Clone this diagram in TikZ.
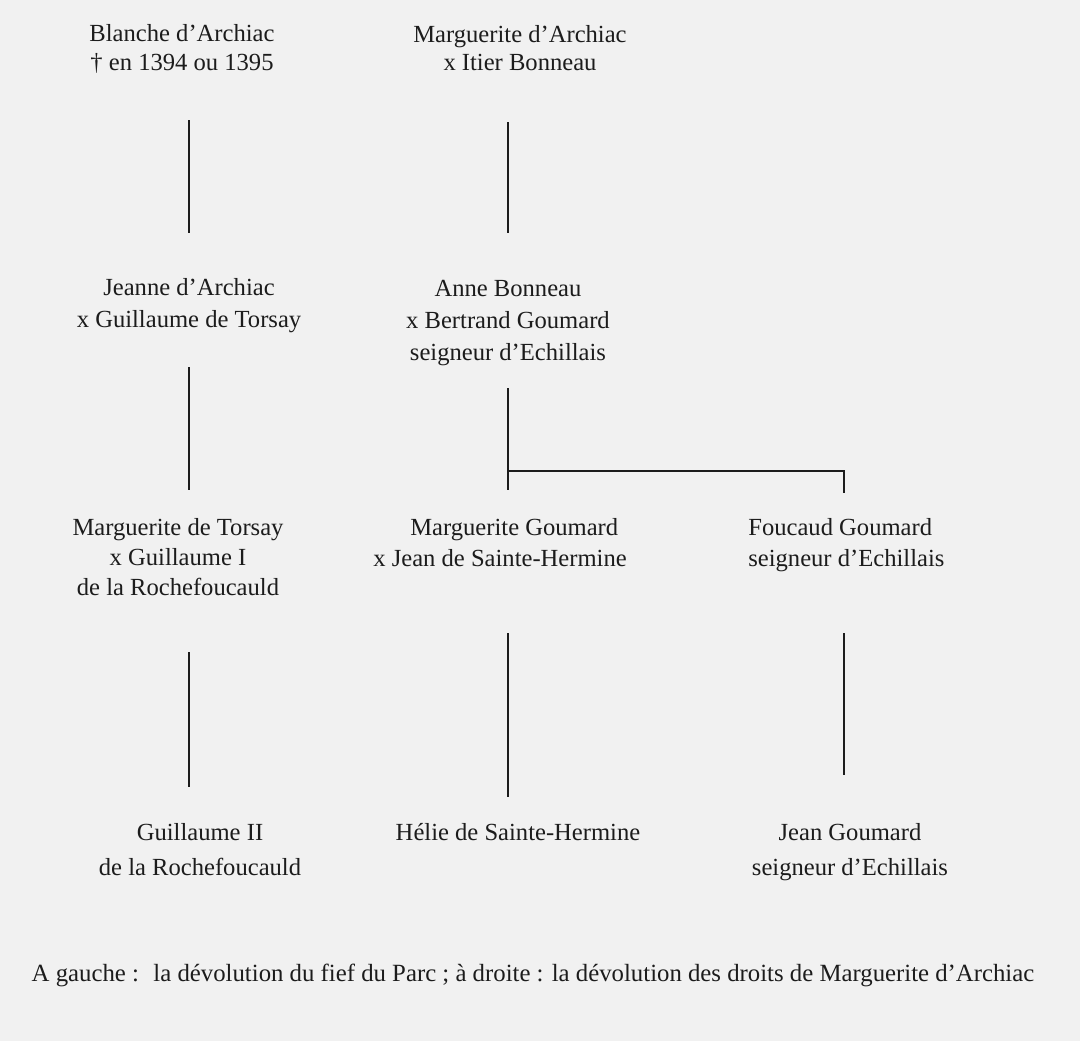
\documentclass[tikz,border=0pt]{standalone}
\usepackage{fontspec}
\setmainfont{Liberation Serif}
\usepackage{tikz}
\usetikzlibrary{positioning}
\usetikzlibrary{calc}
\definecolor{papier}{RGB}{241,241,241}
\definecolor{encre}{RGB}{28,28,28}
\tikzstyle{personne}=[align=center,inner sep=0pt,text=encre]
\tikzstyle{agauche}=[personne,align=left,anchor=west]
\tikzstyle{lien} = [draw,encre,line width=0.8pt]
\tikzstyle{legende} = [inner sep=0pt,text=encre,font=\fontsize{14.1}{16}\selectfont]

\begin{document}
\begin{tikzpicture}[x=0.02cm,y=-0.02cm]

    \fill[papier] (0,0) rectangle (1080,1041);
    \useasboundingbox (0,0) rectangle (1080,1041);

    % les personnes
    \foreach \pos/\name/\ecart/\texte in {{(182,49)/blanche/16.4/{Blanche d’Archiac\\† en 1394 ou 1395}},
                                   {(520,48)/margA/16.4/{Marguerite d’Archiac\\x Itier Bonneau}},
                                   {(189,306)/jeanne/18.1/{Jeanne d’Archiac\\x Guillaume de Torsay}},
                                   {(508,323)/anne/18.4/{Anne Bonneau\\x Bertrand Goumard\\seigneur d’Echillais}},
                                   {(178,557)/margT/17/{Marguerite de Torsay\\x Guillaume I\\de la Rochefoucauld}},
                                   {(518,832)/helie/16/{Hélie de Sainte-Hermine}},
                                   {(200,849.5)/guillaume/19.8/{Guillaume II\\de la Rochefoucauld}},
                                   {(850,852.5)/jeanG/19.8/{Jean Goumard\\seigneur d’Echillais}}}
            \node[personne,font=\fontsize{14}{\ecart}\selectfont] (\name) at \pos {\texte};
    \foreach \pos/\name/\ecart/\texte in {{(373,542.5)/margG/17.6/{\hspace*{0.74cm}Marguerite Goumard\\x Jean de Sainte-Hermine}},
                                   {(748,545)/foucaud/17.6/{Foucaud Goumard\\seigneur d’Echillais}}}
            \node[agauche,font=\fontsize{14}{\ecart}\selectfont] (\name) at \pos {\texte};

    % bouts des traits
    \coordinate (blancheB) at (189,120);
    \coordinate (jeanneH) at (189,233);
    \coordinate (margAB) at (508,122);
    \coordinate (anneH) at (508,233);
    \coordinate (jeanneB) at (189,367);
    \coordinate (margTH) at (189,490);
    \coordinate (anneB) at (508,388);
    \coordinate (margGH) at (508,490);
    \coordinate (fourche) at (508,471);
    \coordinate (foucaudH) at (844,493);
    \coordinate (margTB) at (189,652);
    \coordinate (guillaumeH) at (189,787);
    \coordinate (margGB) at (508,633);
    \coordinate (helieH) at (508,797);
    \coordinate (foucaudB) at (844,633);
    \coordinate (jeanGH) at (844,775);

    % Connect parents with children
    \path[lien] (blancheB) -- (jeanneH);
    \path[lien] (margAB) -- (anneH);
    \path[lien] (jeanneB) -- (margTH);
    \path[lien] (anneB) -- (margGH);
    \path[lien] (fourche) -| (foucaudH);
    \path[lien] (margTB) -- (guillaumeH);
    \path[lien] (margGB) -- (helieH);
    \path[lien] (foucaudB) -- (jeanGH);

   \node[legende] (legende) at (533,975) {A gauche :~ la dévolution du fief du Parc ; à droite : la dévolution des droits de Marguerite d’Archiac};

\end{tikzpicture}
\end{document}
